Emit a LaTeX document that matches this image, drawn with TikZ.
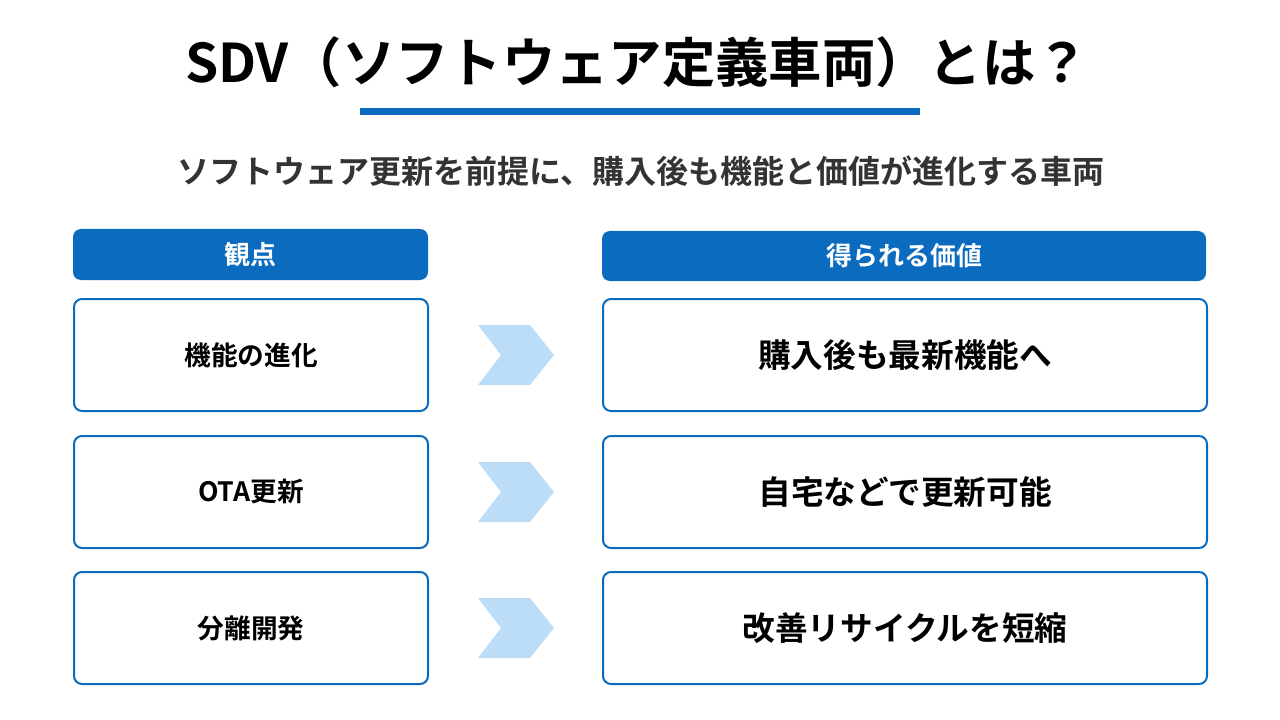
\documentclass[tikz,border=0pt]{standalone}
\usepackage{fontspec}
\setmainfont{Noto Sans CJK JP}[BoldFont={Noto Sans CJK JP Bold}]
\usetikzlibrary{positioning}
\definecolor{sdvblue}{HTML}{0B6BBF}
\definecolor{sdvlight}{HTML}{BBDDF8}
\definecolor{sdvtext}{HTML}{333333}
\tikzset{
  head/.style={fill=sdvblue, rounded corners=6pt},
  headtext/.style={text=white, font=\bfseries\fontsize{19.5}{22}\selectfont},
  card/.style={draw=sdvblue, line width=1.5pt, rounded corners=6pt, fill=white},
  chev/.style={fill=sdvlight, draw=none}
}
\begin{document}
\begin{tikzpicture}[x=0.75pt, y=-0.75pt]
\useasboundingbox (0,0) rectangle (1280,720);
% Title
\node[font=\bfseries\fontsize{40}{44}\selectfont] (title) at (637,62) {SDV（ソフトウェア定義車両）とは？};
\fill[sdvblue] (360,108) rectangle (920,115);
\node[font=\bfseries\fontsize{24}{28}\selectfont, text=sdvtext] (sub) at (641,171) {ソフトウェア更新を前提に、購入後も機能と価値が進化する車両};

% Headers
\fill[head] (73,229) rectangle (428,280);
\node[headtext] (hl) at (250.5,254.5) {観点};
\fill[head] (602,231) rectangle (1206,281);
\node[headtext] (hr) at (904,256) {得られる価値};

% Rows
\foreach \y/\l/\r in {299/機能の進化/購入後も最新機能へ, 436/OTA更新/自宅などで更新可能, 572/分離開発/改善リサイクルを短縮} {
  \draw[card] (74,\y) rectangle (428,\y+112);
  \node[font=\bfseries\fontsize{20}{24}\selectfont] at (251,\y+56) {\l};
  \draw[card] (603,\y) rectangle (1207,\y+112);
  \node[font=\bfseries\fontsize{24.5}{28}\selectfont] at (905,\y+56) {\r};
  \fill[chev] (478,\y+26) -- (530,\y+26) -- (554,\y+56) -- (530,\y+86) -- (478,\y+86) -- (501,\y+56) -- cycle;
}
\end{tikzpicture}
\end{document}
